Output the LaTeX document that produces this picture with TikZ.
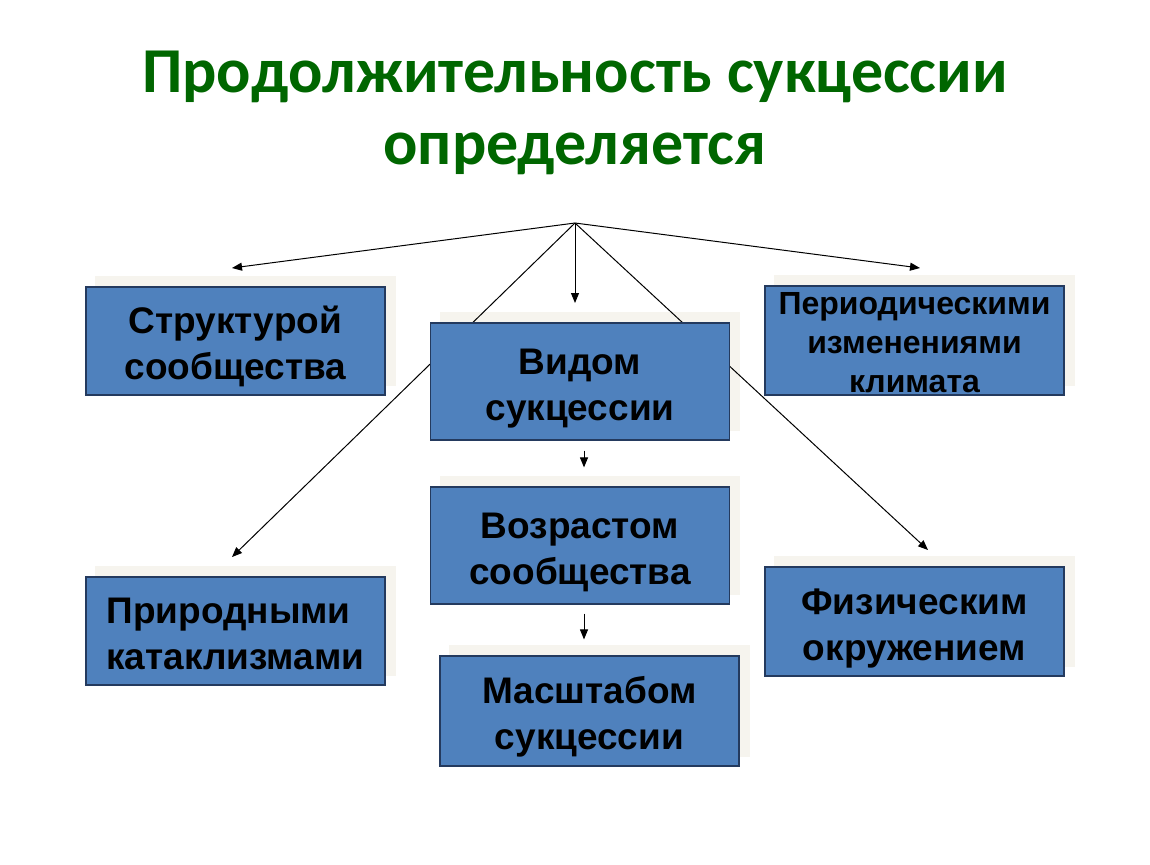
\documentclass[tikz,border=0pt]{standalone}
\usepackage{fontspec}
\setmainfont{Liberation Sans}
\newfontfamily\titlefont{Carlito}
\usetikzlibrary{arrows.meta}
\definecolor{boxblue}{HTML}{4F81BD}
\definecolor{boxline}{HTML}{243A5E}
\definecolor{boxshade}{HTML}{F6F4EE}
\definecolor{titlegreen}{HTML}{006600}
\pgfdeclarelayer{shade}
\pgfdeclarelayer{wires}
\pgfsetlayers{shade,wires,main}
\begin{document}
\begin{tikzpicture}[x=0.5pt,y=-0.5pt,
  factor/.style={draw=boxline,line width=0.6pt,fill=boxblue,inner sep=0pt,
    minimum width=149.5pt,align=center,text height=38.5pt,text depth=0pt,
    font=\bfseries\fontsize{18.5}{23}\selectfont},
  link/.style={line width=0.5pt,-{Triangle[length=5pt,width=4pt]}}]
  \useasboundingbox (0,0) rectangle (1150,864);
  \node[font=\titlefont\bfseries\fontsize{32}{36}\selectfont,
    text=titlegreen,align=center] (title) at (575,113)
    {Продолжительность сукцессии\\определяется};
  \node[factor,minimum height=54pt] (struct) at (235.5,341)
    {Структурой\\сообщества};
  \node[factor,minimum height=58.5pt] (vid) at (580,381.5)
    {Видом\\сукцессии};
  \node[factor,minimum height=54.5pt,text height=51.5pt,
    font=\bfseries\fontsize{16}{19.5}\selectfont] (period) at (914.5,340.5)
    {Периодическими\\изменениями\\климата};
  \node[factor,minimum height=58.5pt] (vozr) at (580,545.5)
    {Возрастом\\сообщества};
  \node[factor,minimum height=54pt,align=left] (prir) at (235.5,631)
    {Природными\\катаклизмами};
  \node[factor,minimum height=55pt] (masht) at (589.5,711)
    {Масштабом\\сукцессии};
  \node[factor,minimum height=54.5pt] (phys) at (914.5,621.5)
    {Физическим\\окружением};
  \begin{pgfonlayer}{shade}
    \fill[white] (0,0) rectangle (1150,864);
    \foreach \n in {struct,vid,period,vozr,prir,masht,phys}
      \fill[boxshade] ([shift={(10,-10)}]\n.south west)
        rectangle ([shift={(10,-10)}]\n.north east);
  \end{pgfonlayer}
  \begin{pgfonlayer}{wires}
    \coordinate (fork) at (575,223);
    \coordinate (toStruct) at (232,268);
    \coordinate (toPeriod) at (920,268);
    \coordinate (toVid) at (575,303);
    \coordinate (toPrir) at (232,557);
    \coordinate (toPhys) at (928,550);
    \draw[link] (fork) -- (toStruct);
    \draw[link] (fork) -- (toPeriod);
    \draw[link] (fork) -- (toVid);
    \draw[link] (fork) -- (toPrir);
    \draw[link] (fork) -- (toPhys);
  \end{pgfonlayer}
  \draw[link,shorten <=5pt,shorten >=9.5pt]
    ([xshift=2pt]vid.south) -- ([xshift=2pt]vozr.north);
  \draw[link,shorten <=4.5pt,shorten >=8pt]
    ([xshift=2pt]vozr.south) -- ([xshift=-2.75pt]masht.north);
\end{tikzpicture}
\end{document}
